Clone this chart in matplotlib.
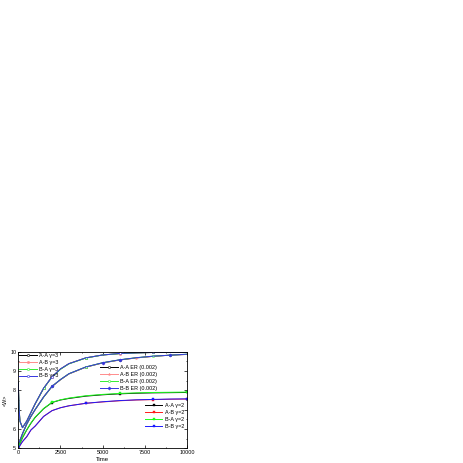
#!/usr/bin/env python
# -*- coding: utf-8 -*-

import matplotlib
matplotlib.use('Agg')
import matplotlib.pyplot as plt
from matplotlib.ticker import MultipleLocator

plt.rcParams['font.family'] = ['Liberation Sans', 'DejaVu Sans']

# time samples
t = [0, 50, 100, 250, 500, 750, 1000, 1500, 2000, 2500, 3000, 4000, 5000, 6000, 7000, 8000, 9000, 10000]

# scale free, gamma = 3
aa_g3 = [8.4, 7.0, 6.4, 6.07, 6.4, 6.85, 7.3, 8.1, 8.7, 9.1, 9.38, 9.68, 9.83, 9.9, 9.94, 9.96, 9.97, 9.97]
ab_g3 = [8.4, 7.0, 6.4, 6.07, 6.41, 6.86, 7.3, 8.11, 8.7, 9.1, 9.38, 9.68, 9.83, 9.9, 9.94, 9.96, 9.97, 9.97]
ba_g3 = [8.4, 7.0, 6.4, 6.07, 6.4, 6.85, 7.3, 8.1, 8.69, 9.09, 9.37, 9.67, 9.83, 9.9, 9.94, 9.96, 9.97, 9.97]
bb_g3 = [8.4, 7.0, 6.4, 6.07, 6.41, 6.86, 7.31, 8.11, 8.7, 9.11, 9.38, 9.68, 9.83, 9.91, 9.94, 9.96, 9.97, 9.97]

# Erdos-Renyi, p = 0.002
aa_er = [5.2, 5.3, 5.4, 5.75, 6.25, 6.65, 7.0, 7.65, 8.2, 8.55, 8.85, 9.2, 9.42, 9.57, 9.68, 9.76, 9.82, 9.86]
ab_er = [5.2, 5.3, 5.41, 5.76, 6.26, 6.66, 7.01, 7.66, 8.2, 8.55, 8.85, 9.2, 9.42, 9.57, 9.68, 9.76, 9.82, 9.86]
ba_er = [5.2, 5.3, 5.4, 5.75, 6.25, 6.65, 7.0, 7.65, 8.21, 8.56, 8.86, 9.21, 9.43, 9.58, 9.69, 9.77, 9.82, 9.87]
bb_er = [5.2, 5.3, 5.41, 5.76, 6.26, 6.66, 7.01, 7.66, 8.21, 8.56, 8.86, 9.21, 9.43, 9.58, 9.69, 9.77, 9.82, 9.87]

# scale free, gamma = 2
aa_g2 = [5.0, 5.1, 5.25, 5.55, 5.95, 6.3, 6.6, 7.05, 7.37, 7.5, 7.58, 7.7, 7.77, 7.82, 7.85, 7.87, 7.88, 7.89]
ab_g2 = [5.0, 5.05, 5.15, 5.35, 5.6, 5.95, 6.15, 6.65, 6.95, 7.1, 7.2, 7.33, 7.4, 7.46, 7.5, 7.52, 7.54, 7.55]
ba_g2 = [5.0, 5.1, 5.26, 5.56, 5.96, 6.31, 6.61, 7.06, 7.38, 7.51, 7.6, 7.72, 7.79, 7.84, 7.87, 7.89, 7.9, 7.91]
bb_g2 = [5.0, 5.05, 5.15, 5.35, 5.6, 5.95, 6.15, 6.65, 6.95, 7.1, 7.2, 7.33, 7.41, 7.47, 7.51, 7.53, 7.55, 7.56]

labels = ['A-A', 'A-B', 'B-A', 'B-B']
colors_light = ['black', '#ff8c8c', '#33ee33', '#3535e0']
colors_full = ['black', '#ff1a1a', '#1aff1a', '#1a1aff']

fig = plt.figure(figsize=(4.63, 4.63), dpi=100)
ax = fig.add_axes([0.0395, 0.0317, 0.3644, 0.2087])

lw = 0.7
fs = 3.9
ms = 1.6

g3 = [aa_g3, ab_g3, ba_g3, bb_g3]
g3_fill = ['white', '#ff8c8c', 'white', 'white']
h1 = []
for i in range(4):
    l, = ax.plot(t, g3[i], color=colors_light[i], lw=lw, marker='o', ms=ms,
                 mfc=g3_fill[i], mew=0.4, markevery=[7 + (i % 2), 11 + (i % 2) * 2, 15])
    h1.append(l)

er = [aa_er, ab_er, ba_er, bb_er]
er_marks = ['o', '*', 'o', 'D']
er_fill = ['white', '#ff8c8c', 'white', '#3535e0']
h2 = []
for i in range(4):
    l, = ax.plot(t, er[i], color=colors_light[i], lw=lw, marker=er_marks[i], ms=ms,
                 mfc=er_fill[i], mew=0.4, markevery=[8, 11 + i % 2, 13 + i % 3, 16])
    h2.append(l)

g2 = [aa_g2, ab_g2, ba_g2, bb_g2]
h3 = []
for i in range(4):
    l, = ax.plot(t, g2[i], color=colors_full[i], lw=lw, marker='s', ms=ms,
                 mew=0.3, markevery=[8 + 3 * (i % 2), 13 + 2 * (i % 2), 17])
    h3.append(l)

ax.set_xlim(0, 10000)
ax.set_ylim(5, 10)
ax.xaxis.set_major_locator(MultipleLocator(2500))
ax.xaxis.set_minor_locator(MultipleLocator(1250))
ax.yaxis.set_major_locator(MultipleLocator(1))
ax.yaxis.set_minor_locator(MultipleLocator(0.5))
ax.tick_params(which='both', direction='in', top=True, right=True, labelsize=fs,
               width=0.5, pad=1.5)
ax.tick_params(which='major', length=2)
ax.tick_params(which='minor', length=1)
for s in ax.spines.values():
    s.set_linewidth(0.6)

ax.set_xlabel('Time', fontsize=fs + 0.4, labelpad=1)
ax.set_ylabel('<W>', fontsize=fs, labelpad=2)

leg_kw = dict(frameon=False, fontsize=fs, handlelength=3.2, handletextpad=0.4,
              labelspacing=0.35, borderaxespad=0.1, borderpad=0.1)
leg1 = ax.legend(h1, [s + ' \u03b3=3' for s in labels], loc='upper left',
                 bbox_to_anchor=(0.0, 1.0), **leg_kw)
ax.add_artist(leg1)
leg2 = ax.legend(h2, [s + ' ER (0.002)' for s in labels], loc='upper left',
                 bbox_to_anchor=(0.48, 0.87), **leg_kw)
ax.add_artist(leg2)
ax.legend(h3, [s + ' \u03b3=2' for s in labels], loc='upper left',
          bbox_to_anchor=(0.745, 0.48), **leg_kw)

fig.savefig('out.png', dpi=100)
